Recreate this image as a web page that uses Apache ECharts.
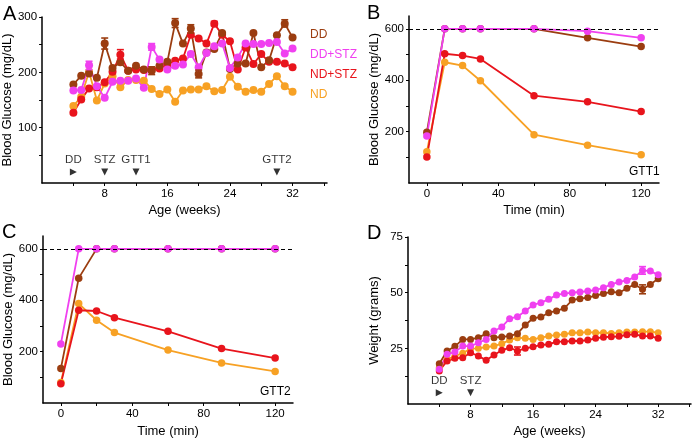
<!DOCTYPE html>
<html>
<head>
<meta charset="utf-8">
<script src="https://cdn.jsdelivr.net/npm/echarts@6/dist/echarts.min.js"></script>
<style>
  html, body { margin: 0; padding: 0; background: #fff; }
  #chart { width: 692px; height: 442px; }
</style>
</head>
<body>
<div id="chart"></div>
<script>
// weeks of age for panels A and D
const weeks = [4, 5, 6, 7, 8, 9, 10, 11, 12, 13, 14, 15, 16, 17, 18, 19, 20, 21, 22, 23, 24, 25, 26, 27, 28, 29, 30, 31, 32];
// GTT sampling times (min)
const gttTimes = [0, 10, 20, 30, 60, 90, 120];

// A: blood glucose by week
const glucoseDD    = [178, 194, 198, 190, 252, 208, 218, 203, 212, 205, 203, 212, 219, 289, 252, 279, 197, 236, 242, 271, 206, 216, 216, 271, 209, 222, 267, 288, 263];
const glucoseDDSTZ = [167, 168, 213, 175, 154, 183, 185, 185, 189, 172, 246, 223, 205, 212, 214, 233, 209, 235, 247, 252, 208, 227, 252, 251, 251, 253, 255, 234, 243];
const glucoseNDSTZ = [127, 151, 171, 173, 182, 201, 232, 203, 205, 204, 204, 207, 214, 221, 225, 268, 261, 252, 288, 268, 256, 205, 245, 215, 233, 219, 219, 216, 209];
const glucoseND    = [139, 156, 201, 149, 180, 193, 173, 186, 186, 185, 170, 161, 169, 147, 167, 169, 169, 175, 166, 168, 192, 174, 165, 168, 165, 179, 193, 175, 165];

// B: GTT1
const gtt1DD    = [198, 600, 600, 600, 600, 565, 531];
const gtt1DDSTZ = [183, 600, 600, 600, 600, 591, 565];
const gtt1NDSTZ = [101, 503, 496, 483, 340, 316, 278];
const gtt1ND    = [122, 470, 457, 398, 188, 147, 110];

// C: GTT2
const gtt2DD    = [134, 486, 600, 600, 600, 600, 600];
const gtt2DDSTZ = [230, 600, 600, 600, 600, 600, 600];
const gtt2NDSTZ = [75, 361, 358, 332, 279, 212, 175];
const gtt2ND    = [80, 387, 322, 274, 206, 156, 123];

// D: body weight by week
const weightDD    = [18.1, 23.8, 25.9, 29, 29, 29.8, 31.6, 29.8, 30.1, 30.5, 31.6, 35.5, 38.5, 39.1, 41, 41.8, 43, 46.7, 47.3, 47.8, 48.7, 49.6, 50.4, 50, 52, 53.7, 51.5, 53.7, 56.3];
const weightDDSTZ = [15.6, 22.3, 23.4, 26, 26, 27.5, 29, 32.8, 34.6, 38.3, 39.2, 41.8, 44.5, 45.5, 47, 49, 49.6, 50, 50.3, 50.7, 51.2, 52.2, 53.7, 54.8, 55.5, 57, 60, 59.7, 58];
const weightNDSTZ = [14.8, 19.3, 20.5, 20.8, 23, 21.6, 19.6, 22, 24.1, 25.3, 23.8, 25, 25.7, 26.5, 26.8, 28, 28, 28.3, 28.3, 28.7, 29.5, 30, 30.2, 30.4, 31.1, 31.3, 30.5, 30.5, 29.5];
const weightND    = [16.3, 20, 21.6, 22.8, 24.9, 25, 25.6, 26, 27.1, 28.7, 29.8, 29.5, 29, 29.8, 30.5, 31, 31.3, 32, 32, 32.3, 32, 32, 31.7, 32, 32.3, 32.3, 32.5, 32.5, 32];

// error bars [x, low, high]
const errGlucoseDD    = [[8, 242, 262], [14, 196, 210], [17, 281, 297], [19, 271, 286], [20, 190, 204], [31, 282, 295]];
const errGlucoseDDSTZ = [[6, 205, 220], [14, 240, 252]];
const errGlucoseNDSTZ = [[10, 224, 241], [22, 284, 292]];
const errWeightDD     = [[30, 49.5, 53.5]];
const errWeightDDSTZ  = [[30, 58.3, 61.7]];
const errWeightNDSTZ  = [[14, 22, 25.6]];

// event markers
const glucoseEvents = [['DD', 4, 'right'], ['STZ', 8, 'down'], ['GTT1', 12, 'down'], ['GTT2', 30, 'down']];
const weightEvents  = [['DD', 4, 'right'], ['STZ', 8, 'down']];

// ticks / labels
const weekTicks = [4, 8, 12, 16, 20, 24, 28, 32, 36];
const weekLabels = [8, 16, 24, 32];
const timeTicks = [0, 20, 40, 60, 80, 100, 120];
const timeLabels = [0, 40, 80, 120];
const glucoseTicksA = [50, 100, 150, 200, 250, 300];
const glucoseLabelsA = [100, 200, 300];
const glucoseTicksGtt = [100, 200, 300, 400, 500, 600];
const glucoseLabelsGtt = [200, 400, 600];
const weightTicks = [12.5, 25, 37.5, 50, 62.5, 75];
const weightLabels = [25, 50, 75];

const groups = ['DD', 'DD+STZ', 'ND+STZ', 'ND'];
const colors = { 'DD': '#9b3d10', 'DD+STZ': '#f040f0', 'ND+STZ': '#e8141c', 'ND': '#f7a124' };

const font = 'Liberation Sans, Arial, Helvetica, sans-serif';
const chart = echarts.init(document.getElementById('chart'));

function valueAxis(gridIndex, min, max, ticks, labels, name, nameGap) {
    return {
        type: 'value',
        gridIndex: gridIndex,
        min: min,
        max: max,
        name: name,
        nameLocation: 'middle',
        nameGap: nameGap,
        nameTextStyle: { color: '#000', fontSize: 13, fontFamily: font },
        axisLine: { show: true, onZero: false, lineStyle: { color: '#000', width: 1.5 } },
        axisTick: { show: true, length: 3, customValues: ticks, lineStyle: { color: '#000', width: 1 } },
        axisLabel: { customValues: labels, color: '#000', fontSize: 11.5, fontFamily: font, margin: 5 },
        splitLine: { show: false }
    };
}

function zip(xs, ys) {
    return xs.map((x, i) => [x, ys[i]]);
}

function line(name, xs, ys, idx, size) {
    return {
        name: name,
        type: 'line',
        xAxisIndex: idx,
        yAxisIndex: idx,
        data: zip(xs, ys),
        symbol: 'circle',
        symbolSize: size,
        itemStyle: { color: colors[name] },
        lineStyle: { color: colors[name], width: 1.8 },
        z: 3
    };
}

function errBars(name, data, idx) {
    return {
        type: 'custom',
        xAxisIndex: idx,
        yAxisIndex: idx,
        data: data,
        z: 4,
        renderItem: function (params, api) {
            const lo = api.coord([api.value(0), api.value(1)]);
            const hi = api.coord([api.value(0), api.value(2)]);
            const style = { stroke: colors[name], lineWidth: 1.6 };
            return {
                type: 'group',
                children: [
                    { type: 'line', shape: { x1: lo[0], y1: lo[1], x2: hi[0], y2: hi[1] }, style: style },
                    { type: 'line', shape: { x1: lo[0] - 3.5, y1: lo[1], x2: lo[0] + 3.5, y2: lo[1] }, style: style },
                    { type: 'line', shape: { x1: hi[0] - 3.5, y1: hi[1], x2: hi[0] + 3.5, y2: hi[1] }, style: style }
                ]
            };
        }
    };
}

function events(list, idx, yVal) {
    return {
        type: 'scatter',
        xAxisIndex: idx,
        yAxisIndex: idx,
        symbol: 'triangle',
        symbolSize: 7,
        itemStyle: { color: '#000' },
        silent: true,
        data: list.map(e => ({ name: e[0], value: [e[1], yVal], symbolRotate: e[2] === 'right' ? -90 : 180 })),
        label: { show: true, position: 'top', distance: 3, formatter: '{b}', color: '#000', fontSize: 11.5, fontFamily: font }
    };
}

function dashed600() {
    return {
        silent: true,
        symbol: ['none', 'none'],
        label: { show: false },
        lineStyle: { color: '#000', type: [4, 3], width: 1 },
        data: [{ yAxis: 600 }]
    };
}

const series = [];
// A
series.push(line('ND', weeks, glucoseND, 0, 8));
series.push(line('ND+STZ', weeks, glucoseNDSTZ, 0, 8));
series.push(line('DD', weeks, glucoseDD, 0, 8));
series.push(line('DD+STZ', weeks, glucoseDDSTZ, 0, 8));
series.push(errBars('DD', errGlucoseDD, 0));
series.push(errBars('DD+STZ', errGlucoseDDSTZ, 0));
series.push(errBars('ND+STZ', errGlucoseNDSTZ, 0));
series.push(events(glucoseEvents, 0, 20));
// B
series.push(line('ND', gttTimes, gtt1ND, 1, 7.5));
series.push(line('ND+STZ', gttTimes, gtt1NDSTZ, 1, 7.5));
series.push(line('DD', gttTimes, gtt1DD, 1, 7.5));
const bTop = line('DD+STZ', gttTimes, gtt1DDSTZ, 1, 7.5);
bTop.markLine = dashed600();
series.push(bTop);
// C
series.push(line('ND', gttTimes, gtt2ND, 2, 7.5));
series.push(line('ND+STZ', gttTimes, gtt2NDSTZ, 2, 7.5));
series.push(line('DD', gttTimes, gtt2DD, 2, 7.5));
const cTop = line('DD+STZ', gttTimes, gtt2DDSTZ, 2, 7.5);
cTop.markLine = dashed600();
series.push(cTop);
// D
series.push(line('ND', weeks, weightND, 3, 7));
series.push(line('ND+STZ', weeks, weightNDSTZ, 3, 7));
series.push(line('DD', weeks, weightDD, 3, 7));
series.push(line('DD+STZ', weeks, weightDDSTZ, 3, 7));
series.push(errBars('DD', errWeightDD, 3));
series.push(errBars('DD+STZ', errWeightDDSTZ, 3));
series.push(errBars('ND+STZ', errWeightNDSTZ, 3));
series.push(events(weightEvents, 3, 5));

function letter(text, x, y) {
    return { type: 'text', left: x, top: y, style: { text: text, fontSize: 20, fontFamily: font, fill: '#000' } };
}

const option = {
    animation: false,
    backgroundColor: '#fff',
    grid: [
        { left: 42, top: 17, width: 285, height: 166 },
        { left: 409, top: 16, width: 250, height: 167 },
        { left: 43, top: 236, width: 250, height: 167 },
        { left: 408, top: 237, width: 283, height: 167 }
    ],
    xAxis: [
        valueAxis(0, 0, 36.4, weekTicks, weekLabels, 'Age (weeks)', 21),
        valueAxis(1, -10, 130, timeTicks, timeLabels, 'Time (min)', 21),
        valueAxis(2, -10, 130, timeTicks, timeLabels, 'Time (min)', 22),
        valueAxis(3, 0, 36.2, weekTicks, weekLabels, 'Age (weeks)', 21)
    ],
    yAxis: [
        valueAxis(0, 0, 300, glucoseTicksA, glucoseLabelsA, 'Blood Glucose (mg/dL)', 25),
        valueAxis(1, 0, 650, glucoseTicksGtt, glucoseLabelsGtt, 'Blood Glucose (mg/dL)', 28),
        valueAxis(2, 0, 650, glucoseTicksGtt, glucoseLabelsGtt, 'Blood Glucose (mg/dL)', 27),
        valueAxis(3, 0, 75, weightTicks, weightLabels, 'Weight (grams)', 27)
    ],
    legend: {
        orient: 'vertical',
        left: 300,
        top: 23,
        icon: 'none',
        itemWidth: 0,
        itemHeight: 14,
        itemGap: 7,
        selectedMode: false,
        textStyle: { fontSize: 12, fontFamily: font },
        data: groups.map(g => ({ name: g, textStyle: { color: colors[g] } }))
    },
    graphic: [
        letter('A', 3, 4),
        letter('B', 367, 3),
        letter('C', 2, 222),
        letter('D', 367, 223),
        { type: 'text', left: 629, top: 166, style: { text: 'GTT1', fontSize: 12, fontFamily: font, fill: '#000' } },
        { type: 'text', left: 260, top: 386, style: { text: 'GTT2', fontSize: 12, fontFamily: font, fill: '#000' } }
    ],
    series: series
};

chart.setOption(option);
</script>
</body>
</html>
